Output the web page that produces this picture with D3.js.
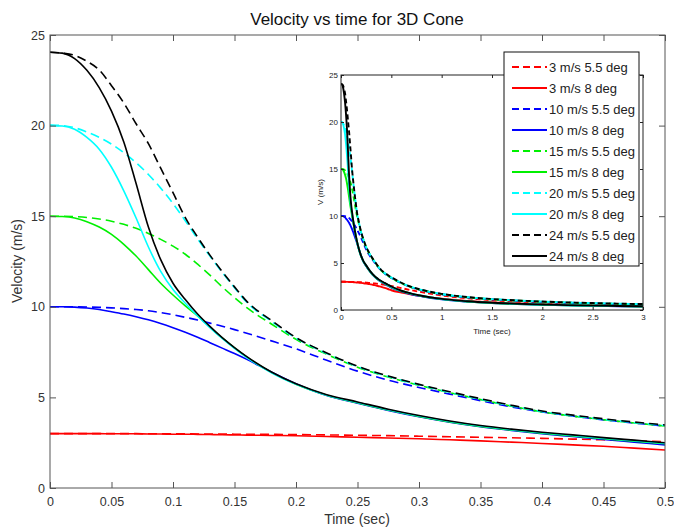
<!DOCTYPE html>
<html><head><meta charset="utf-8">
<script src="https://cdn.jsdelivr.net/npm/d3@7"></script>
<style>
body{margin:0;background:#fff;}
text{font-family:"Liberation Sans",Arial,Helvetica,sans-serif;}
</style>
</head><body>
<svg id="chart" width="674" height="530"></svg>
<script>
// ---------- DATA ----------
const times = [0,0.01,0.02,0.03,0.04,0.05,0.06,0.07,0.08,0.09,0.10,0.11,0.12,0.13,0.14,0.15,0.16,0.18,0.20,0.225,0.25,0.275,0.30,0.325,0.35,0.375,0.40,0.425,0.45,0.475,0.50,
               0.6,0.7,0.8,1.0,1.25,1.5,1.75,2.0,2.25,2.5,2.75,3.0];

const v3_55  = [3.0,3.0,3.0,3.0,3.0,3.0,3.0,3.0,2.99,2.99,2.99,2.99,2.98,2.98,2.98,2.97,2.97,2.96,2.95,2.93,2.91,2.89,2.86,2.83,2.8,2.77,2.74,2.7,2.66,2.61,2.55,
                2.33,2.1,1.9,1.55,1.25,1.04,0.9,0.79,0.71,0.64,0.58,0.54];
const v3_8   = [3.0,3.0,3.0,3.0,3.0,2.99,2.99,2.99,2.98,2.98,2.97,2.97,2.96,2.95,2.94,2.93,2.92,2.9,2.88,2.84,2.8,2.76,2.72,2.66,2.6,2.53,2.46,2.38,2.3,2.2,2.1,
                1.85,1.65,1.48,1.2,0.97,0.81,0.69,0.6,0.53,0.47,0.43,0.39];
const v10_55 = [10.0,10.0,10.0,9.99,9.97,9.94,9.9,9.85,9.78,9.68,9.56,9.42,9.27,9.1,8.93,8.74,8.54,8.12,7.68,7.05,6.45,5.95,5.55,5.18,4.82,4.48,4.2,3.97,3.76,3.58,3.42,
                2.84,2.41,2.1,1.67,1.34,1.13,0.98,0.86,0.77,0.7,0.64,0.59];
const v10_8  = [10.0,10.0,9.98,9.93,9.85,9.73,9.6,9.45,9.28,9.08,8.85,8.6,8.32,8.02,7.72,7.42,7.1,6.4,5.75,5.1,4.68,4.28,3.93,3.63,3.38,3.18,3.0,2.84,2.68,2.53,2.38,
                1.98,1.68,1.46,1.13,0.89,0.73,0.63,0.55,0.49,0.44,0.4,0.37];
const v15_55 = [15.0,15.0,14.98,14.93,14.85,14.72,14.55,14.33,14.05,13.72,13.35,12.9,12.35,11.75,11.1,10.5,9.95,9.05,8.2,7.38,6.67,6.12,5.67,5.26,4.88,4.52,4.2,3.97,3.77,3.59,3.42,
                2.86,2.42,2.12,1.69,1.35,1.14,0.99,0.87,0.78,0.71,0.65,0.6];
const v15_8  = [15.0,14.98,14.9,14.7,14.4,14.0,13.45,12.8,12.05,11.3,10.65,10.05,9.5,8.88,8.28,7.73,7.22,6.38,5.72,5.12,4.7,4.3,3.95,3.65,3.4,3.2,3.03,2.87,2.72,2.58,2.44,
                2.02,1.72,1.49,1.16,0.91,0.75,0.64,0.56,0.5,0.45,0.41,0.38];
const v20_55 = [20.03,20.0,19.88,19.65,19.35,18.98,18.5,17.95,17.3,16.55,15.7,14.75,13.75,12.8,11.9,11.05,10.25,9.2,8.27,7.42,6.7,6.15,5.7,5.28,4.9,4.54,4.22,3.99,3.79,3.61,3.45,
                2.88,2.44,2.13,1.7,1.37,1.16,1.01,0.89,0.8,0.73,0.67,0.62];
const v20_8  = [20.0,19.98,19.8,19.35,18.7,17.7,16.4,14.9,13.3,11.95,10.95,10.2,9.5,8.85,8.25,7.7,7.2,6.36,5.72,5.12,4.72,4.32,3.97,3.67,3.42,3.22,3.05,2.9,2.75,2.61,2.47,
                2.04,1.74,1.51,1.17,0.92,0.76,0.65,0.57,0.51,0.46,0.42,0.39];
const v24_55 = [24.05,24.0,23.88,23.55,23.07,22.2,21.25,20.1,19.0,17.65,16.3,14.92,13.85,12.85,11.95,11.1,10.3,9.25,8.3,7.45,6.72,6.18,5.72,5.31,4.93,4.57,4.25,4.02,3.82,3.64,3.48,
                2.9,2.45,2.15,1.72,1.38,1.17,1.02,0.9,0.81,0.74,0.68,0.63];
const v24_8  = [24.05,24.0,23.7,23.05,22.1,20.8,19.1,16.8,14.4,12.6,11.3,10.4,9.6,8.92,8.3,7.75,7.25,6.4,5.75,5.15,4.75,4.35,4.0,3.7,3.45,3.25,3.08,2.93,2.78,2.64,2.5,
                2.05,1.75,1.52,1.18,0.93,0.77,0.66,0.58,0.52,0.47,0.43,0.4];

const seriesLabels = ["3 m/s 5.5 deg","3 m/s 8 deg","10 m/s 5.5 deg","10 m/s 8 deg","15 m/s 5.5 deg","15 m/s 8 deg","20 m/s 5.5 deg","20 m/s 8 deg","24 m/s 5.5 deg","24 m/s 8 deg"];
const seriesValues = [v3_55, v3_8, v10_55, v10_8, v15_55, v15_8, v20_55, v20_8, v24_55, v24_8];
const seriesColors = ["#ff0000","#ff0000","#0000ff","#0000ff","#00f000","#00f000","#00ffff","#00ffff","#000000","#000000"];
const seriesDashed = [true,false,true,false,true,false,true,false,true,false];

const mainXTicks = [0,0.05,0.1,0.15,0.2,0.25,0.3,0.35,0.4,0.45,0.5];
const mainXLabels = ["0","0.05","0.1","0.15","0.2","0.25","0.3","0.35","0.4","0.45","0.5"];
const mainYTicks = [0,5,10,15,20,25];
const insetXTicks = [0,0.5,1,1.5,2,2.5,3];
const insetXLabels = ["0","0.5","1","1.5","2","2.5","3"];
const insetYTicks = [0,5,10,15,20,25];

// ---------- DRAW ----------
const svg = d3.select("#chart");
const series = seriesLabels.map((name,i)=>({
  name, color: seriesColors[i], dashed: seriesDashed[i],
  pts: times.map((t,j)=>({t, v: seriesValues[i][j]}))
}));

function drawAxes(g, x, y, xt, xl, yt, opt){
  const [x0,x1] = x.range(), [y0,y1] = y.range();
  const ax = d3.axisBottom(x).tickValues(xt).tickFormat((d,i)=>xl[i]).tickSizeInner(-opt.tick).tickSizeOuter(0).tickPadding(opt.padX);
  const gx = g.append("g").attr("transform",`translate(0,${y0})`).call(ax);
  const ay = d3.axisLeft(y).tickValues(yt).tickFormat(d=>String(d)).tickSizeInner(-opt.tick).tickSizeOuter(0).tickPadding(opt.padY);
  const gy = g.append("g").attr("transform",`translate(${x0},0)`).call(ay);
  const at = d3.axisTop(x).tickValues(xt).tickFormat("").tickSizeInner(-opt.tick).tickSizeOuter(0);
  const gt = g.append("g").attr("transform",`translate(0,${y1})`).call(at);
  const ar = d3.axisRight(y).tickValues(yt).tickFormat("").tickSizeInner(-opt.tick).tickSizeOuter(0);
  const gr = g.append("g").attr("transform",`translate(${x1},0)`).call(ar);
  [gx,gy,gt,gr].forEach(a=>{
    a.select(".domain").remove();
    a.selectAll("line").attr("stroke",opt.axisColor).attr("stroke-width",1);
    a.selectAll("text").attr("fill",opt.textColor).style("font-size",opt.font+"px")
      .style("font-family",'"Liberation Sans",Arial,sans-serif');
  });
  g.append("rect").attr("x",x0).attr("y",y1).attr("width",x1-x0).attr("height",y0-y1)
    .attr("fill","none").attr("stroke",opt.axisColor).attr("stroke-width",1);
}

function drawLines(g, x, y, tMax, width, dash, clipId){
  const [x0,x1] = x.range(), [y0,y1] = y.range();
  svg.append("clipPath").attr("id",clipId).append("rect")
    .attr("x",x0).attr("y",y1-2).attr("width",x1-x0).attr("height",y0-y1+2);
  const line = d3.line().x(d=>x(d.t)).y(d=>y(d.v)).curve(d3.curveMonotoneX);
  const lg = g.append("g").attr("clip-path",`url(#${clipId})`);
  series.forEach(s=>{
    lg.append("path").datum(s.pts.filter(p=>p.t<=tMax+1e-9))
      .attr("d",line).attr("fill","none").attr("stroke",s.color)
      .attr("stroke-width",width).attr("stroke-dasharray",s.dashed?dash:null)
      .attr("stroke-linejoin","round");
  });
}

// Main axes
const xMain = d3.scaleLinear().domain([0,0.5]).range([50,665]);
const yMain = d3.scaleLinear().domain([0,25]).range([488,35]);
const gMain = svg.append("g");
drawLines(gMain, xMain, yMain, 0.5, 1.6, "9,5", "clipMain");
drawAxes(gMain, xMain, yMain, mainXTicks, mainXLabels, mainYTicks,
  {tick:6, padX:9, padY:5, axisColor:"#555", textColor:"#333", font:12.5});

svg.append("text").attr("x",357).attr("y",25).attr("text-anchor","middle")
  .style("font-size","17px").attr("fill","#111").text("Velocity vs time for 3D Cone");
svg.append("text").attr("x",357).attr("y",524).attr("text-anchor","middle")
  .style("font-size","14px").attr("fill","#333").text("Time (sec)");
svg.append("text").attr("transform","translate(22,261) rotate(-90)").attr("text-anchor","middle")
  .style("font-size","14px").attr("fill","#333").text("Velocity (m/s)");

// Inset axes
const xIn = d3.scaleLinear().domain([0,3]).range([341,643]);
const yIn = d3.scaleLinear().domain([0,25]).range([310,75]);
const gIn = svg.append("g");
gIn.append("rect").attr("x",341).attr("y",75).attr("width",302).attr("height",235).attr("fill","#fff");
drawLines(gIn, xIn, yIn, 3, 1.9, "5,3", "clipInset");
drawAxes(gIn, xIn, yIn, insetXTicks, insetXLabels, insetYTicks,
  {tick:3, padX:4, padY:3, axisColor:"#222", textColor:"#222", font:8});
svg.append("text").attr("x",492).attr("y",334).attr("text-anchor","middle")
  .style("font-size","8px").attr("fill","#222").text("Time (sec)");
svg.append("text").attr("transform","translate(323,192) rotate(-90)").attr("text-anchor","middle")
  .style("font-size","8px").attr("fill","#222").text("V (m/s)");

// Legend
const leg = svg.append("g");
leg.append("rect").attr("x",504).attr("y",52).attr("width",135).attr("height",214)
  .attr("fill","#fff").attr("stroke","#111").attr("stroke-width",1);
series.forEach((s,i)=>{
  const yy = 67 + i*21;
  leg.append("line").attr("x1",512).attr("x2",547).attr("y1",yy).attr("y2",yy)
    .attr("stroke",s.color).attr("stroke-width",2).attr("stroke-dasharray",s.dashed?"7,4":null);
  leg.append("text").attr("x",549).attr("y",yy+4.5).style("font-size","13px").attr("fill","#222").text(s.name);
});
</script>
</body></html>
